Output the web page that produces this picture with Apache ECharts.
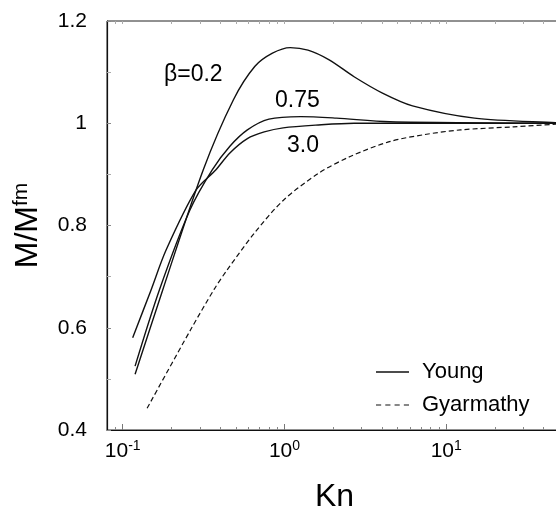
<!DOCTYPE html>
<html><head><meta charset="utf-8">
<script src="https://cdn.jsdelivr.net/npm/echarts@6/dist/echarts.min.js"></script>
<style>html,body{margin:0;padding:0;background:#fff}#c{width:556px;height:510px}</style>
</head><body><div id="c"></div>
<script>
// Young model, beta = 0.2
const knB02 = [0.1193, 0.1768, 0.315, 0.4838, 0.655, 0.843, 1.086, 1.398, 1.89, 2.694, 4.036, 6.19, 14.96, 47.4, 60];
const mB02  = [0.509, 0.674, 0.909, 1.046, 1.111, 1.137, 1.148, 1.143, 1.124, 1.091, 1.059, 1.034, 1.010, 1.001, 1.000];
// Young model, beta = 0.75
const knB075 = [0.1193, 0.1686, 0.2600, 0.3577, 0.46, 0.590, 0.8018, 1.263, 2.097, 4.457, 60];
const mB075  = [0.525, 0.674, 0.830, 0.909, 0.955, 0.987, 1.008, 1.013, 1.010, 1.003, 1.000];
// Young model, beta = 3.0
const knB3 = [0.1153, 0.1498, 0.1855, 0.2844, 0.3759, 0.46, 0.590, 0.75, 0.982, 1.622, 2.694, 60];
const mB3  = [0.5805, 0.674, 0.752, 0.8695, 0.9086, 0.942, 0.970, 0.983, 0.991, 0.9966, 0.9999, 1.000];
// Gyarmathy
const knG = [0.1416, 0.264, 0.369, 0.4377, 0.655, 0.982, 1.622, 2.55, 4.457, 7.39, 12.25, 26.1, 47.4, 60];
const mG  = [0.4425, 0.5970, 0.676, 0.711, 0.786, 0.849, 0.902, 0.935, 0.964, 0.978, 0.987, 0.993, 0.998, 0.999];

const xMajor = [0.1, 1, 10, 100];
const xMinor = [0.09, 0.2, 0.3, 0.4, 0.5, 0.6, 0.7, 0.8, 0.9, 2, 3, 4, 5, 6, 7, 8, 9, 20, 30, 40, 50, 60, 70, 80, 90];
const curveLabels = ['\u03B2=0.2', '0.75', '3.0'];

const zip = (a, b) => a.map((v, i) => [v, b[i]]);
const FONT = '"Liberation Sans", Arial, Helvetica, sans-serif';
const lineCol = '#111';

const chart = echarts.init(document.getElementById('c'), null, {renderer: 'canvas'});
const logAxisBase = {type: 'log', logBase: 10, min: 0.08, max: 100, gridIndex: 0, splitLine: {show: false}};
chart.setOption({
  animation: false,
  backgroundColor: '#fff',
  textStyle: {fontFamily: FONT},
  grid: {left: 107, right: -52, top: 21, bottom: 80, outerBoundsMode: 'none', containLabel: false,
         show: true, borderColor: '#222', borderWidth: 1},
  xAxis: [
    Object.assign({}, logAxisBase, {
      position: 'bottom',
      axisLine: {show: true, lineStyle: {color: '#111', width: 1.2}},
      axisTick: {show: true, inside: true, length: 6, customValues: xMajor, lineStyle: {color: '#777'}},
      axisLabel: {
        show: true, margin: 9, customValues: xMajor, color: '#000',
        formatter: v => '{b|10}{s|' + Math.round(Math.log10(v)) + '}',
        rich: {b: {fontSize: 21, fontFamily: FONT, color: '#000'},
               s: {fontSize: 14, fontFamily: FONT, color: '#000', padding: [0, 0, 11, 0]}}
      }
    }),
    Object.assign({}, logAxisBase, {
      position: 'bottom',
      axisLine: {show: false},
      axisTick: {show: true, inside: true, length: 3, customValues: xMinor, lineStyle: {color: '#888'}},
      axisLabel: {show: false}
    }),
    Object.assign({}, logAxisBase, {
      position: 'top',
      axisLine: {show: false},
      axisTick: {show: true, inside: true, length: 3, customValues: xMajor.concat(xMinor), lineStyle: {color: '#aaa'}},
      axisLabel: {show: false}
    })
  ],
  yAxis: {
    type: 'value', min: 0.4, max: 1.2, interval: 0.2,
    splitLine: {show: false},
    axisLine: {show: true, lineStyle: {color: '#111', width: 1.2}},
    axisTick: {show: true, inside: true, length: 4, lineStyle: {color: '#888'}},
    minorTick: {show: true, splitNumber: 2, length: 4, lineStyle: {color: '#aaa'}},
    axisLabel: {fontSize: 21, color: '#000', margin: 20, fontFamily: FONT},
    name: '{m|M/M}{s|fm}',
    nameLocation: 'middle', nameRotate: 90, nameGap: 61,
    nameTextStyle: {rich: {m: {fontSize: 32, fontFamily: FONT, color: '#000'},
                           s: {fontSize: 21, fontFamily: FONT, color: '#000', padding: [0, 0, 14, 0]}}}
  },
  legend: {
    data: [
      {name: 'Young', icon: 'rect', itemStyle: {color: '#111'}},
      {name: 'Gyarmathy', icon: 'path://M0,0h5v1h-5zM9,0h5v1h-5zM18,0h5v1h-5zM27,0h5v1h-5z', itemStyle: {color: '#111'}}
    ],
    orient: 'vertical', left: 371, top: 356,
    itemWidth: 33, itemHeight: 1.3, itemGap: 11,
    textStyle: {fontSize: 22, color: '#000', fontFamily: FONT, padding: [0, 0, 0, 8]}
  },
  graphic: [
    {type: 'text', left: 164, top: 63, style: {text: curveLabels[0], font: '23px ' + FONT, fill: '#000'}},
    {type: 'text', left: 275, top: 89, style: {text: curveLabels[1], font: '23px ' + FONT, fill: '#000'}},
    {type: 'text', left: 287, top: 134, style: {text: curveLabels[2], font: '23px ' + FONT, fill: '#000'}},
    {type: 'text', left: 315, top: 481, style: {text: 'Kn', font: '32px ' + FONT, fill: '#000'}}
  ],
  series: [
    {name: 'Young', type: 'line', data: zip(knB02, mB02), symbol: 'none', smooth: 0.3, lineStyle: {color: lineCol, width: 1.4}},
    {name: 'Young', type: 'line', data: zip(knB075, mB075), symbol: 'none', smooth: 0.3, lineStyle: {color: lineCol, width: 1.4}},
    {name: 'Young', type: 'line', data: zip(knB3, mB3), symbol: 'none', smooth: 0.3, lineStyle: {color: lineCol, width: 1.4}},
    {name: 'Gyarmathy', type: 'line', data: zip(knG, mG), symbol: 'none', smooth: 0.3, lineStyle: {color: lineCol, width: 1.2, type: [5, 3]}}
  ]
});
</script></body></html>
